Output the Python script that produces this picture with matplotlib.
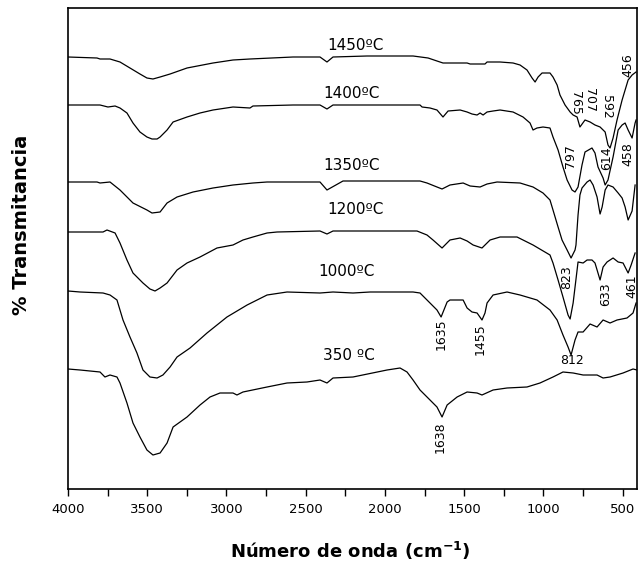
import matplotlib
matplotlib.use("Agg")
import matplotlib.pyplot as plt
from matplotlib.ticker import MultipleLocator

# ---- data (wavenumber cm^-1, transmittance in arbitrary offset units) ----
wn_350 = [4000,3924,3798,3767,3735,3691,3672,3628,3590,3546,3502,3464,3419,3375,3337,3249,3167,3104,3041,2959,2934,2896,2744,2618,2492,2410,2366,2328,2202,1987,1905,1861,1823,1779,1716,1672,1640,1608,1545,1482,1419,1388,1318,1230,1104,1022,940,877,813,750,662,624,580,498,435,410]
t_350 = [131,130,128,123,125,123,117,97,77,63,50,45,47,57,73,83,95,103,107,107,105,108,113,117,118,120,117,122,123,130,132,128,120,110,100,93,83,95,103,108,107,105,110,112,113,117,123,128,127,125,125,122,123,127,131,130]

wn_1000 = [4000,3924,3779,3735,3691,3653,3609,3565,3527,3483,3438,3401,3356,3312,3230,3123,2997,2870,2744,2618,2410,2328,2202,2094,1823,1779,1716,1672,1646,1608,1590,1507,1482,1451,1419,1388,1369,1356,1318,1230,1148,1041,959,914,877,845,826,801,782,750,706,662,624,580,536,473,435,416]
t_1000 = [209,208,207,205,200,180,163,147,130,123,122,125,133,143,152,167,183,195,205,208,207,208,207,208,208,207,197,190,183,198,200,200,192,188,187,180,187,197,205,208,205,200,190,180,165,153,145,160,168,168,176,173,180,177,180,182,187,197]

wn_1200 = [4000,3779,3754,3703,3672,3628,3590,3527,3483,3451,3419,3375,3312,3249,3167,3060,2959,2896,2833,2744,2681,2410,2366,2328,1798,1735,1697,1640,1590,1526,1482,1444,1388,1337,1274,1167,1066,959,940,908,877,845,832,813,788,782,750,725,694,675,643,624,599,561,529,498,466,447,422]
t_1200 = [268,268,270,267,257,240,227,217,211,209,212,217,230,237,243,252,255,260,263,267,268,269,266,269,269,265,260,252,260,262,259,255,252,260,263,263,255,245,237,220,203,185,181,197,230,238,237,240,240,237,220,233,238,242,238,237,227,235,247]

wn_1350 = [4000,3817,3798,3735,3672,3590,3502,3470,3419,3375,3312,3211,3085,2959,2833,2744,2410,2366,2265,1779,1735,1672,1640,1590,1507,1463,1400,1356,1293,1148,1066,1003,959,940,908,883,851,826,801,795,782,770,757,725,706,687,662,643,630,611,593,561,529,504,485,466,441,422]
t_1350 = [318,318,317,318,310,297,290,287,288,297,303,308,312,315,317,318,318,310,319,319,317,313,311,315,317,314,313,316,318,317,313,307,300,290,273,260,250,242,250,255,285,305,312,318,320,315,303,286,293,310,315,313,307,302,293,280,289,315]

wn_1400 = [4000,3798,3748,3703,3672,3628,3590,3546,3502,3470,3438,3419,3375,3337,3249,3167,3085,2959,2852,2833,2580,2410,2366,2328,1779,1766,1716,1672,1634,1602,1526,1482,1451,1419,1400,1381,1356,1318,1274,1192,1129,1085,1066,1041,1003,959,940,908,877,851,820,801,782,757,738,694,675,656,624,611,593,561,529,504,485,466,441,422,416]
t_1400 = [395,395,393,394,392,387,377,368,363,361,361,363,370,378,383,387,390,393,392,394,395,395,391,395,395,393,392,390,383,389,390,388,386,385,387,385,388,389,390,388,383,377,370,372,373,372,363,350,333,320,310,308,313,335,348,352,347,333,322,315,320,343,370,375,377,370,362,377,380]

wn_1450 = [4000,3817,3798,3735,3672,3609,3546,3502,3464,3419,3356,3249,3085,2959,2852,2580,2410,2366,2328,2113,1823,1728,1672,1634,1482,1463,1369,1356,1274,1192,1148,1104,1072,1053,1034,1009,959,940,914,896,864,832,813,788,770,738,706,675,643,611,593,580,561,536,504,485,466,441,416]
t_1450 = [443,442,441,441,438,432,426,422,421,423,426,432,437,440,441,443,443,438,443,444,444,442,439,437,437,436,436,438,438,437,435,430,422,418,423,427,427,423,415,405,395,388,385,383,373,380,378,375,373,368,355,352,362,380,400,410,420,425,428]

series = [(wn_350, t_350), (wn_1000, t_1000), (wn_1200, t_1200),
          (wn_1350, t_1350), (wn_1400, t_1400), (wn_1450, t_1450)]

# curve labels: text, wavenumber, transmittance
curve_labels = ["1450ºC", "1400ºC", "1350ºC", "1200ºC", "1000ºC", "350 ºC"]
curve_label_wn = [2183, 2214, 2214, 2189, 2246, 2227]
curve_label_t = [454, 407, 335, 291, 229, 144]

# peak labels: text, wavenumber, transmittance, rotation
peak_labels = ["1635", "1455", "1638", "812", "823", "633", "461", "797", "614", "458", "765", "707", "592", "456"]
peak_wn = [1646, 1400, 1653, 820, 851, 611, 441, 832, 599, 466, 801, 712, 605, 466]
peak_t = [166, 161, 63, 139, 223, 206, 214, 344, 342, 346, 397, 400, 393, 435]
peak_rot = [90, 90, 90, 0, 90, 90, 90, 90, 90, 90, 270, 270, 270, 90]

# ---- figure ----
fig = plt.figure(figsize=(6.39, 5.72), dpi=100)
fig.patch.set_facecolor("white")
ax = fig.add_axes([68/639, 1-489/572, (637-68)/639, (489-8)/572])

for wn, t in series:
    ax.plot(wn, t, color="black", lw=0.9)

ax.set_xlim(4000, 410)
ax.set_ylim(11, 492)
ax.set_yticks([])
ax.xaxis.set_major_locator(MultipleLocator(500))
ax.xaxis.set_minor_locator(MultipleLocator(250))
ax.tick_params(axis="x", which="both", direction="out", length=5, width=1, labelsize=9.5, pad=5)
for s in ax.spines.values():
    s.set_linewidth(1.2)

for txt, x, y in zip(curve_labels, curve_label_wn, curve_label_t):
    ax.text(x, y, txt, ha="center", va="center", fontsize=11)

for txt, x, y, r in zip(peak_labels, peak_wn, peak_t, peak_rot):
    ax.text(x, y, txt, ha="center", va="center", fontsize=9, rotation=r)

ax.set_xlabel("Número de onda (cm$^{\\mathbf{-1}}$)", fontsize=13, fontweight="bold", va="center")
ax.set_ylabel("% Transmitancia", fontsize=14, fontweight="bold", va="center")
ax.xaxis.set_label_coords(0.496, -0.128)
ax.yaxis.set_label_coords(-0.081, 0.549)

fig.savefig("out.png", dpi=100, facecolor="white")
